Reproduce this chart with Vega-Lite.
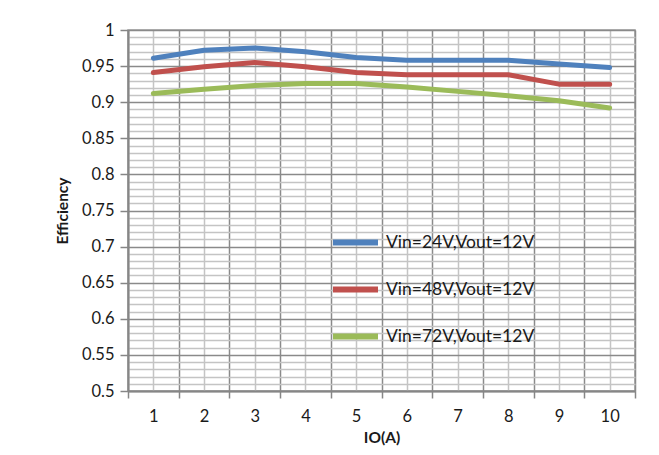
{
  "$schema": "https://vega.github.io/schema/vega-lite/v6.json",
  "autosize": {"type": "none"},
  "width": 507,
  "height": 361,
  "padding": {"left": 128, "top": 30, "right": 24, "bottom": 64},
  "background": "white",
  "config": {
    "font": "Lato",
    "view": {"stroke": "#9a9a9a", "strokeWidth": 1.5}
  },
  "data": {
    "values": [
      {"io": 1, "series": "Vin=24V,Vout=12V", "eff": 0.961},
      {"io": 2, "series": "Vin=24V,Vout=12V", "eff": 0.972},
      {"io": 3, "series": "Vin=24V,Vout=12V", "eff": 0.975},
      {"io": 4, "series": "Vin=24V,Vout=12V", "eff": 0.970},
      {"io": 5, "series": "Vin=24V,Vout=12V", "eff": 0.962},
      {"io": 6, "series": "Vin=24V,Vout=12V", "eff": 0.958},
      {"io": 7, "series": "Vin=24V,Vout=12V", "eff": 0.958},
      {"io": 8, "series": "Vin=24V,Vout=12V", "eff": 0.958},
      {"io": 9, "series": "Vin=24V,Vout=12V", "eff": 0.953},
      {"io": 10, "series": "Vin=24V,Vout=12V", "eff": 0.948},
      {"io": 1, "series": "Vin=48V,Vout=12V", "eff": 0.941},
      {"io": 2, "series": "Vin=48V,Vout=12V", "eff": 0.949},
      {"io": 3, "series": "Vin=48V,Vout=12V", "eff": 0.955},
      {"io": 4, "series": "Vin=48V,Vout=12V", "eff": 0.949},
      {"io": 5, "series": "Vin=48V,Vout=12V", "eff": 0.941},
      {"io": 6, "series": "Vin=48V,Vout=12V", "eff": 0.938},
      {"io": 7, "series": "Vin=48V,Vout=12V", "eff": 0.938},
      {"io": 8, "series": "Vin=48V,Vout=12V", "eff": 0.938},
      {"io": 9, "series": "Vin=48V,Vout=12V", "eff": 0.925},
      {"io": 10, "series": "Vin=48V,Vout=12V", "eff": 0.925},
      {"io": 1, "series": "Vin=72V,Vout=12V", "eff": 0.912},
      {"io": 2, "series": "Vin=72V,Vout=12V", "eff": 0.918},
      {"io": 3, "series": "Vin=72V,Vout=12V", "eff": 0.923},
      {"io": 4, "series": "Vin=72V,Vout=12V", "eff": 0.926},
      {"io": 5, "series": "Vin=72V,Vout=12V", "eff": 0.926},
      {"io": 6, "series": "Vin=72V,Vout=12V", "eff": 0.921},
      {"io": 7, "series": "Vin=72V,Vout=12V", "eff": 0.915},
      {"io": 8, "series": "Vin=72V,Vout=12V", "eff": 0.909},
      {"io": 9, "series": "Vin=72V,Vout=12V", "eff": 0.902},
      {"io": 10, "series": "Vin=72V,Vout=12V", "eff": 0.892}
    ]
  },
  "mark": {"type": "line", "strokeWidth": 5, "strokeCap": "round", "strokeJoin": "round"},
  "encoding": {
    "x": {
      "field": "io",
      "type": "quantitative",
      "scale": {"domain": [0.5, 10.5], "nice": false, "zero": false},
      "axis": {
        "title": "IO(A)",
        "values": [0.5, 1, 1.5, 2, 2.5, 3, 3.5, 4, 4.5, 5, 5.5, 6, 6.5, 7, 7.5, 8, 8.5, 9, 9.5, 10, 10.5],
        "labelExpr": "datum.value % 1 === 0 ? toString(datum.value) : ''",
        "labelFontSize": 16.5,
        "labelColor": "#1a1a1a",
        "labelPadding": 10,
        "labelFlush": false,
        "labelOverlap": false,
        "tickSize": 7,
        "tickWidth": 1.5,
        "tickColor": {"condition": {"test": "datum.value % 1 !== 0", "value": "#868686"}, "value": "transparent"},
        "domainColor": "#868686",
        "domainWidth": 2,
        "grid": true,
        "gridColor": {"condition": {"test": "datum.value % 1 !== 0", "value": "#8a8a8a"}, "value": "#c4c4c4"},
        "gridWidth": 1.5,
        "titleFontSize": 15.5,
        "titleFontWeight": "bold",
        "titleColor": "#1a1a1a",
        "titlePadding": 6
      }
    },
    "y": {
      "field": "eff",
      "type": "quantitative",
      "scale": {"domain": [0.5, 1], "nice": false, "zero": false},
      "axis": {
        "title": "Efficiency",
        "values": [0.5, 0.51, 0.52, 0.53, 0.54, 0.55, 0.56, 0.57, 0.58, 0.59, 0.6, 0.61, 0.62, 0.63, 0.64, 0.65, 0.66, 0.67, 0.68, 0.69, 0.7, 0.71, 0.72, 0.73, 0.74, 0.75, 0.76, 0.77, 0.78, 0.79, 0.8, 0.81, 0.82, 0.83, 0.84, 0.85, 0.86, 0.87, 0.88, 0.89, 0.9, 0.91, 0.92, 0.93, 0.94, 0.95, 0.96, 0.97, 0.98, 0.99, 1],
        "labelExpr": "round(datum.value * 100) % 5 === 0 ? toString(round(datum.value * 100) / 100) : ''",
        "labelFontSize": 16.5,
        "labelColor": "#1a1a1a",
        "labelPadding": 6,
        "labelOverlap": false,
        "labelFlush": false,
        "tickSize": 8,
        "tickWidth": 1.5,
        "tickColor": {"condition": {"test": "round(datum.value * 100) % 5 === 0", "value": "#868686"}, "value": "transparent"},
        "domainColor": "#868686",
        "domainWidth": 2,
        "grid": true,
        "gridColor": {"condition": {"test": "round(datum.value * 100) % 5 === 0", "value": "#8a8a8a"}, "value": "#c4c4c4"},
        "gridWidth": 1.5,
        "titleFontSize": 15.5,
        "titleFontWeight": "bold",
        "titleColor": "#1a1a1a",
        "titlePadding": 11
      }
    },
    "color": {
      "field": "series",
      "type": "nominal",
      "scale": {
        "domain": ["Vin=24V,Vout=12V", "Vin=48V,Vout=12V", "Vin=72V,Vout=12V"],
        "range": ["#4F81BD", "#C0504D", "#9BBB59"]
      },
      "legend": {
        "title": null,
        "orient": "none",
        "legendX": 202,
        "legendY": 187,
        "symbolType": "stroke",
        "symbolSize": 2025,
        "symbolStrokeWidth": 6,
        "labelFontSize": 17.5,
        "labelColor": "#1a1a1a",
        "labelOffset": 5,
        "rowPadding": 9,
        "labelLimit": 300
      }
    }
  }
}
